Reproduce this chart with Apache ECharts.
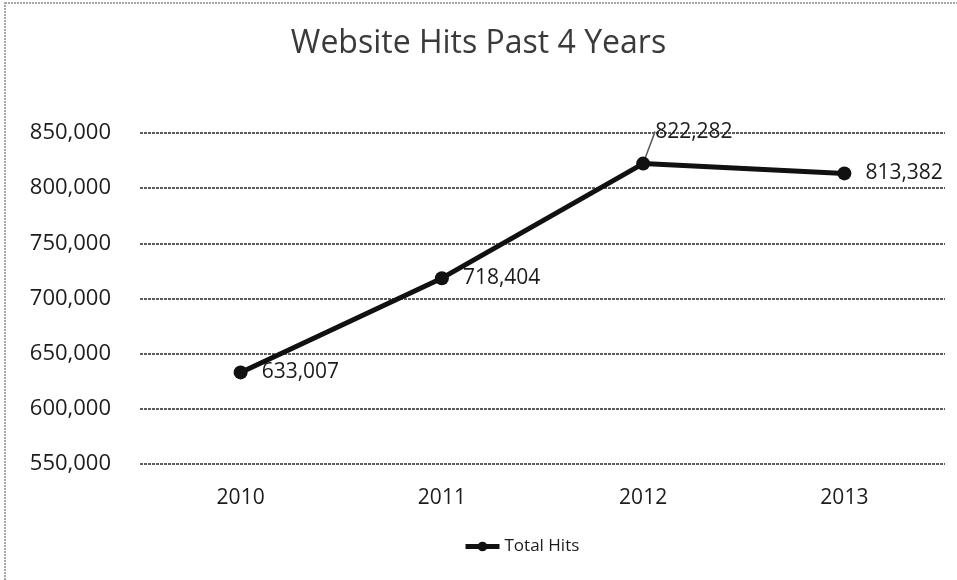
<!DOCTYPE html>
<html>
<head>
<meta charset="utf-8">
<script src="https://cdn.jsdelivr.net/npm/echarts@6/dist/echarts.min.js"></script>
<style>
  html, body { margin: 0; padding: 0; background: #ffffff; }
  #chart { width: 957px; height: 580px; }
</style>
</head>
<body>
<div id="chart"></div>
<script>
// Yearly website hits
const years = ['2010', '2011', '2012', '2013'];
const totalHits = [633007, 718404, 822282, 813382];
const seriesName = 'Total Hits';
const chartTitle = 'Website Hits Past 4 Years';

const FONT = '"Open Sans", Lato, sans-serif';
const INK = '#1c1c1c';
const fmt = v => v.toLocaleString('en-US');

// the 2012 label sits above the point, tied to it by a short guide line
const seriesData = totalHits.map((v, i) => i === 2
  ? { value: v, labelLine: { show: true, lineStyle: { color: '#5a5a5a', width: 1.5 } } }
  : { value: v });

const chart = echarts.init(document.getElementById('chart'));

chart.setOption({
  backgroundColor: '#ffffff',
  animation: false,
  title: {
    text: chartTitle,
    left: 'center',
    top: 23,
    textStyle: { fontFamily: FONT, fontSize: 32, fontWeight: 'normal', color: '#3a3a3a' }
  },
  legend: {
    bottom: 20,
    left: 458,
    itemWidth: 34,
    itemHeight: 12,
    itemGap: 4,
    lineStyle: { width: 5, color: '#111111' },
    itemStyle: { color: '#111111' },
    textStyle: { fontFamily: FONT, fontSize: 17, color: INK },
    data: [seriesName]
  },
  grid: { left: 140, right: 12, top: 133, bottom: 116 },
  xAxis: {
    type: 'category',
    data: years,
    boundaryGap: true,
    axisLine: { show: false },
    axisTick: { show: false },
    axisLabel: { margin: 24, fontFamily: FONT, fontSize: 21, color: INK }
  },
  yAxis: {
    type: 'value',
    min: 550000,
    max: 850000,
    interval: 50000,
    axisLine: { show: false },
    axisTick: { show: false },
    axisLabel: { margin: 29, fontFamily: FONT, fontSize: 22, color: INK, formatter: fmt },
    splitLine: { lineStyle: { color: '#5c5c5c', width: 2, type: [3, 1] } }
  },
  series: [{
    name: seriesName,
    type: 'line',
    data: seriesData,
    symbol: 'circle',
    symbolSize: 14,
    lineStyle: { color: '#111111', width: 5 },
    itemStyle: { color: '#111111' },
    label: {
      show: true,
      position: 'right',
      distance: 14,
      fontFamily: FONT,
      fontSize: 21,
      color: INK,
      formatter: p => fmt(p.value)
    },
    labelLayout: p => p.dataIndex === 2 ? { dx: -9, dy: -32 } : {}
  }],
  graphic: [{
    type: 'rect',
    shape: { x: 5, y: 3, width: 1000, height: 1000 },
    style: { fill: 'none', stroke: '#8a8a8a', lineWidth: 1.5, lineDash: [2, 1] },
    silent: true
  }]
});
</script>
</body>
</html>
